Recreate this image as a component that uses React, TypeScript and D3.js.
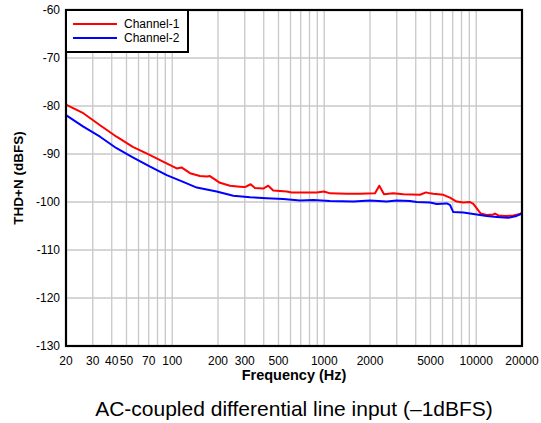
import React from 'react';
import * as d3 from 'd3';

const ch1Freq = [20, 26, 33.5, 43, 55, 71, 87, 107, 115, 131, 152, 169, 177, 206, 240, 279, 301, 328, 350, 397, 428, 462, 512, 566, 611, 728, 892, 996, 1092, 1406, 1718, 2158, 2302, 2474, 2846, 3312, 4266, 4670, 4962, 5217, 6070, 6714, 7430, 8218, 9094, 9568, 10706, 11712, 12952, 13288, 13972, 15850, 17540, 19400, 20000];
const ch1Db = [-79.7, -81.5, -84.0, -86.4, -88.5, -90.2, -91.6, -93.0, -92.8, -94.0, -94.6, -94.7, -94.6, -96.0, -96.6, -96.8, -96.9, -96.3, -97.1, -97.2, -96.6, -97.6, -97.7, -97.8, -98.0, -98.0, -98.0, -97.8, -98.2, -98.3, -98.3, -98.2, -96.6, -98.4, -98.2, -98.4, -98.5, -98.0, -98.2, -98.3, -98.5, -99.1, -99.9, -100.1, -100.0, -100.4, -102.4, -102.7, -102.6, -102.4, -102.8, -102.9, -102.8, -102.5, -102.2];

const ch2Freq = [20, 26, 33.5, 43, 55, 71, 92, 118, 145, 196, 252, 325, 418, 538, 693, 847, 1092, 1552, 2000, 2577, 2998, 3666, 4056, 4962, 5494, 6394, 6714, 7066, 8218, 10070, 11712, 13638, 16248, 18440, 20000];
const ch2Db = [-81.9, -84.3, -86.4, -88.8, -90.7, -92.6, -94.4, -95.8, -97.0, -97.8, -98.7, -99.0, -99.2, -99.4, -99.7, -99.6, -99.8, -99.9, -99.7, -99.9, -99.7, -99.8, -100.0, -100.1, -100.4, -100.3, -100.6, -102.1, -102.2, -102.6, -102.9, -103.1, -103.3, -102.9, -102.4];

const xTickLabels = [20, 30, 40, 50, 70, 100, 200, 300, 500, 1000, 2000, 5000, 10000, 20000];
const yTickLabels = [-130, -120, -110, -100, -90, -80, -70, -60];
const seriesNames = ['Channel-1', 'Channel-2'];
const seriesColors = ['#ff0000', '#0000ff'];

const W = 541;
const H = 423;
const L = 66, R = 522, T = 10, B = 346;

export default function App() {
  const x = d3.scaleLog().domain([20, 20000]).range([L, R]);
  const y = d3.scaleLinear().domain([-130, -60]).range([B, T]);
  const gridX = x.ticks().filter((v) => v > 20 && v <= 10000);

  const line = d3
    .line<[number, number]>()
    .x((d) => x(d[0]))
    .y((d) => y(d[1]));

  const s1: [number, number][] = ch1Freq.map((f, i) => [f, ch1Db[i]]);
  const s2: [number, number][] = ch2Freq.map((f, i) => [f, ch2Db[i]]);
  const series = [s1, s2];

  const font = 'Arial, "Liberation Sans", sans-serif';

  return (
    <svg
      width={W}
      height={H}
      style={{ position: 'absolute', left: 0, top: 0, background: '#fff' }}
      fontFamily={font}
    >
      <rect x={0} y={0} width={W} height={H} fill="#fff" />
      {/* grid */}
      {gridX.map((v) => (
        <line key={'gx' + v} x1={x(v)} x2={x(v)} y1={T} y2={B} stroke="#c8c8c8" strokeWidth={1.3} />
      ))}
      {yTickLabels.map((v) => (
        <line key={'gy' + v} x1={L} x2={R} y1={y(v)} y2={y(v)} stroke="#c8c8c8" strokeWidth={1.3} />
      ))}
      {/* series */}
      {series.map((s, i) => (
        <path key={'s' + i} d={line(s) || ''} fill="none" stroke={seriesColors[i]} strokeWidth={2} strokeLinejoin="round" />
      ))}
      {/* frame */}
      <rect x={L} y={T} width={R - L} height={B - T} fill="none" stroke="#000" strokeWidth={2.2} />
      {/* y tick labels */}
      {yTickLabels.map((v) => (
        <text key={'yl' + v} x={L - 6} y={y(v) + 4.3} fontSize={12} textAnchor="end" fill="#000">
          {v}
        </text>
      ))}
      {/* x tick labels */}
      {xTickLabels.map((v) => (
        <text key={'xl' + v} x={x(v)} y={365} fontSize={12} textAnchor="middle" fill="#000">
          {v}
        </text>
      ))}
      {/* axis titles */}
      <text x={(L + R) / 2} y={380} fontSize={14.5} fontWeight="bold" textAnchor="middle" fill="#000">
        Frequency (Hz)
      </text>
      <text
        transform={`translate(22.5, ${(T + B) / 2}) rotate(-90)`}
        fontSize={13.5}
        fontWeight="bold"
        textAnchor="middle"
        fill="#000"
      >
        THD+N (dBFS)
      </text>
      {/* legend */}
      <rect x={L} y={T} width={122} height={42} fill="#fff" stroke="#000" strokeWidth={2} />
      {seriesNames.map((n, i) => (
        <g key={'lg' + i}>
          <line x1={73} x2={117} y1={24 + i * 14} y2={24 + i * 14} stroke={seriesColors[i]} strokeWidth={2} />
          <text x={124} y={28.3 + i * 14} fontSize={12} fill="#000">
            {n}
          </text>
        </g>
      ))}
      {/* caption */}
      <text x={(L + R) / 2} y={416} fontSize={21} textAnchor="middle" fill="#000">
        AC-coupled differential line input (–1dBFS)
      </text>
    </svg>
  );
}
